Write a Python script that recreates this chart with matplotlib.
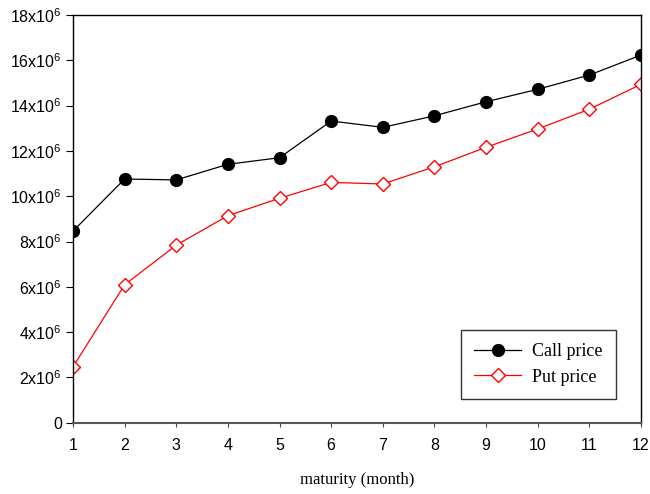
import numpy as np
import matplotlib.pyplot as plt
from matplotlib.ticker import FuncFormatter

# Datos
months = [1, 2, 3, 4, 5, 6, 7, 8, 9, 10, 11, 12]
call_price = [8.46e6, 10.76e6, 10.72e6, 11.41e6, 11.70e6, 13.32e6,
              13.04e6, 13.55e6, 14.17e6, 14.72e6, 15.35e6, 16.23e6]
put_price = [2.47e6, 6.09e6, 7.84e6, 9.14e6, 9.91e6, 10.61e6,
             10.54e6, 11.30e6, 12.16e6, 12.97e6, 13.84e6, 14.94e6]
y_ticks = [0, 2e6, 4e6, 6e6, 8e6, 10e6, 12e6, 14e6, 16e6, 18e6]

plt.rcParams['font.family'] = ['Liberation Sans', 'DejaVu Sans']

fig = plt.figure(figsize=(6.5, 4.94), dpi=100)
ax = fig.add_axes([0.1123, 0.1443, 0.8738, 0.8253])

ax.plot(months, call_price, color='black', lw=0.9, marker='o', ms=8.5,
        mfc='black', mec='black', label='Call price')
ax.plot(months, put_price, color='red', lw=0.9, marker='D', ms=7,
        mfc='white', mec='red', mew=1.0, label='Put price')

ax.set_xlim(1, 12)
ax.set_ylim(0, 18e6)
ax.set_xticks(months)
ax.set_yticks(y_ticks)


def fmt(v, pos):
    if v == 0:
        return '0'
    return r'$\mathregular{%dx10^6}$' % round(v / 1e6)


ax.yaxis.set_major_formatter(FuncFormatter(fmt))
ax.tick_params(direction='out', width=0.8, labelsize=11.5)
ax.tick_params(axis='y', length=5, pad=3)
ax.tick_params(axis='x', length=3, pad=8, color='#444444')
for s in ax.spines.values():
    s.set_linewidth(1.0)
ax.spines['bottom'].set_color('#555555')
ax.spines['bottom'].set_linewidth(1.5)

ax.set_xlabel('maturity (month)', family='Liberation Serif', fontsize=12, labelpad=14)

leg = ax.legend(loc='lower right', bbox_to_anchor=(0.956, 0.058),
                borderaxespad=0,
                prop={'family': 'Liberation Serif', 'size': 13},
                frameon=True, fancybox=False, edgecolor='black',
                borderpad=0.75, handlelength=2.6, labelspacing=0.45,
                handletextpad=0.6)
leg.get_frame().set_linewidth(1.0)

fig.savefig('out.png', dpi=100)
